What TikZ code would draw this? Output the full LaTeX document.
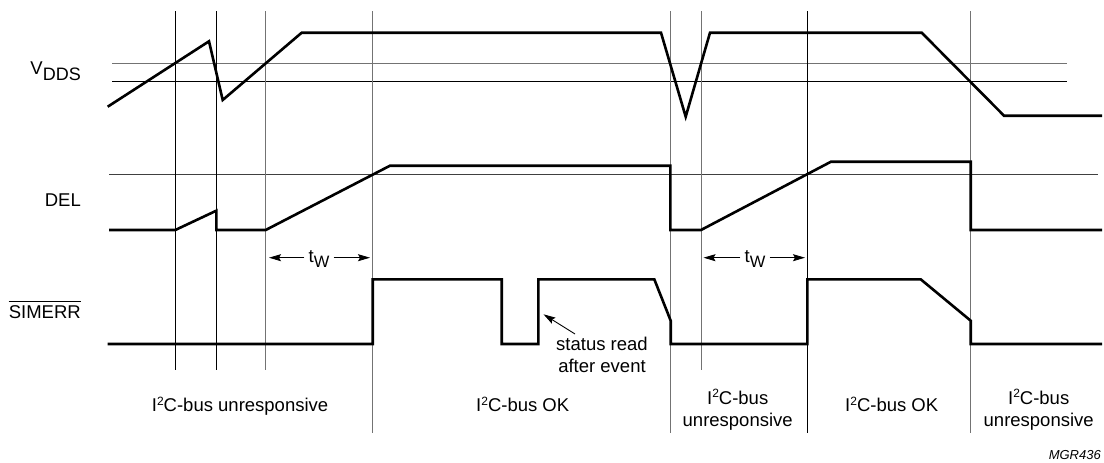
\documentclass[tikz,border=0pt]{standalone}
\usepackage{fontspec}
\setmainfont{Liberation Sans}
\usetikzlibrary{arrows.meta}
\newcommand\IICbus{I\raisebox{6.5pt}{\fontsize{12}{12}\selectfont 2}C-bus}
\begin{document}
\begin{tikzpicture}[x=1pt,y=-1pt,
  sig/.style={line width=2.6pt, line join=miter},
  gk/.style={line width=0.9pt, black},
  gg/.style={line width=0.9pt, black!55},
  lbl/.style={font=\fontsize{18.5}{22}\selectfont, inner sep=0pt},
  tip/.style={-{Stealth[length=12pt,width=7pt,inset=2pt]}, line width=0.9pt},
]
\useasboundingbox (0,0) rectangle (1104,463);

% horizontal reference lines
\draw[gg] (112,63.3) -- (1066.7,63.3);
\draw[gk] (112,81.7) -- (1066.7,81.7);
\draw[gk, black!75] (109,174.3) -- (1097.7,174.3);

% vertical time markers
\draw[gk] (175.3,11) -- (175.3,370);
\draw[gk] (216.3,11) -- (216.3,370);
\draw[gg] (265.7,11) -- (265.7,370);
\draw[gg] (372.7,11) -- (372.7,433);
\draw[gg] (670.7,11) -- (670.7,433);
\draw[gg] (701,11) -- (701,370);
\draw[gk] (807.3,11) -- (807.3,433);
\draw[gg] (970.7,11) -- (970.7,433);

% signal labels
\node[lbl, anchor=base east] (vdds) at (81,74.3) {V\raisebox{-6.4pt}{\fontsize{18}{18}\selectfont DDS}};
\node[lbl, anchor=base east] (del) at (81,206.7) {DEL};
\node[lbl, anchor=base east] (simerr) at (81,318.3) {SIMERR};
\draw[line width=0.9pt] ([yshift=4pt]simerr.north west) -- ([yshift=4pt]simerr.north east);

% VDDS
\draw[sig] (107.7,106.7) -- (209,41.3) -- (222.7,100) -- (301.7,32.7) -- (661,32.7)
  -- (685.7,116.7) -- (710,32.7) -- (921.7,32.7) -- (1004,115.7) -- (1102,115.7);

% DEL
\draw[sig] (109,230) -- (175.3,230) -- (216.3,210.7) -- (216.3,230) -- (265.7,230)
  -- (390,165.7) -- (670.3,165.7) -- (670.3,230) -- (701,230) -- (831,161.7)
  -- (970.7,161.7) -- (970.7,230) -- (1102,230);

% SIMERR
\draw[sig] (107.7,344) -- (372.7,344) -- (372.7,279.3) -- (501.7,279.3) -- (501.7,344)
  -- (538.3,344) -- (538.3,279.3) -- (654.3,279.3) -- (670.7,320.7) -- (670.7,344)
  -- (807.3,344) -- (807.3,279.3) -- (920.7,279.3) -- (970.7,320.7) -- (970.7,344)
  -- (1102,344);

% tW markers
\node[lbl] (tw1) at (319,259) {t\raisebox{-5pt}{\fontsize{16.5}{16.5}\selectfont W}};
\coordinate (tw1l) at (269,257.7);
\coordinate (tw1r) at (370,257.7);
\draw[tip] ([xshift=-4pt]tw1.west |- tw1l) -- (tw1l);
\draw[tip] ([xshift=4pt]tw1.east |- tw1r) -- (tw1r);

\node[lbl] (tw2) at (755,259) {t\raisebox{-5pt}{\fontsize{16.5}{16.5}\selectfont W}};
\coordinate (tw2l) at (703.5,257.7);
\coordinate (tw2r) at (805,257.7);
\draw[tip] ([xshift=-4pt]tw2.west |- tw2l) -- (tw2l);
\draw[tip] ([xshift=4pt]tw2.east |- tw2r) -- (tw2r);

% annotation
\node[lbl, anchor=base] (stat1) at (602,350) {status read};
\node[lbl, anchor=base] (stat2) at (602,372.7) {after event};
\coordinate (readpt) at (543.5,314.3);
\draw[tip] (575,334) -- (readpt);

% bus state labels
\node[lbl, anchor=base west] (s1) at (151.7,411.5) {\IICbus{} unresponsive};
\node[lbl, anchor=base] (s2) at (522.7,411.5) {\IICbus{} OK};
\node[lbl, anchor=base] (s3a) at (737.7,404) {\IICbus};
\node[lbl, anchor=base] (s3b) at (737.7,426.7) {unresponsive};
\node[lbl, anchor=base] (s4) at (891.7,411.5) {\IICbus{} OK};
\node[lbl, anchor=base] (s5a) at (1038.7,404) {\IICbus};
\node[lbl, anchor=base] (s5b) at (1038.7,426.7) {unresponsive};

\node[inner sep=0pt, anchor=base east, font=\fontsize{13}{15}\selectfont\itshape] (ref) at (1101,459) {MGR436};
\end{tikzpicture}
\end{document}
